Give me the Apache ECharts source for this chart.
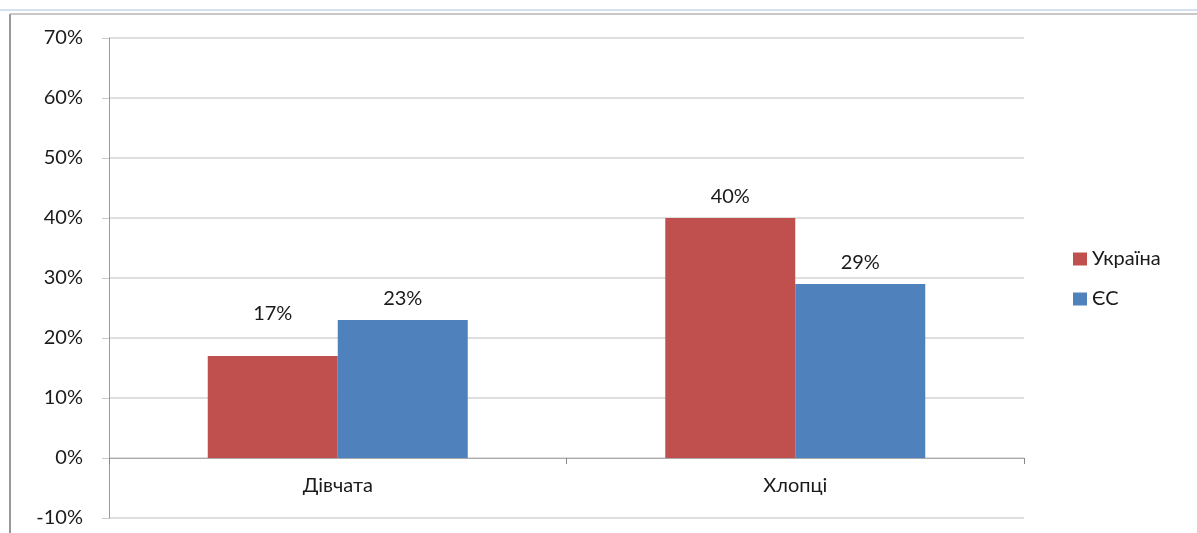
<!DOCTYPE html>
<html>
<head>
<meta charset="utf-8">
<script src="https://cdn.jsdelivr.net/npm/echarts@6/dist/echarts.min.js"></script>
<style>
  html, body { margin: 0; padding: 0; background: #fff; }
  #chart { width: 1197px; height: 533px; }
</style>
</head>
<body>
<div id="chart"></div>
<script>
const categories = ['Дівчата', 'Хлопці'];
const ukraineValues = [17, 40];
const euValues = [23, 29];
const seriesNames = ['Україна', 'ЄС'];

const FONT = 'Lato';
const TEXT = '#1a1a1a';

const chart = echarts.init(document.getElementById('chart'));

const labelStyle = {
    show: true,
    position: 'top',
    distance: 11,
    formatter: '{c}%',
    fontFamily: FONT,
    fontSize: 20,
    color: TEXT
};

// the Дівчата/Україна label sits higher in the original, clear of its neighbour
const ukraineData = ukraineValues.map((v, i) => (
    i === 0 ? { value: v, label: { distance: 32 } } : v
));

const option = {
    backgroundColor: '#fff',
    animation: false,
    grid: {
        left: 109,
        right: 173,
        top: 38,
        bottom: 15,
        outerBoundsMode: 'none'
    },
    legend: {
        orient: 'vertical',
        left: 1068,
        top: 244,
        itemWidth: 14,
        itemHeight: 13,
        itemGap: 20,
        icon: 'rect',
        textStyle: { fontFamily: FONT, fontSize: 20, color: TEXT },
        data: seriesNames
    },
    xAxis: {
        type: 'category',
        data: categories,
        position: 'bottom',
        offset: -60,
        axisLine: { onZero: false, lineStyle: { color: '#aaa', width: 1 } },
        axisTick: { show: true, length: 6, lineStyle: { color: '#888' } },
        axisLabel: { margin: 18, fontFamily: FONT, fontSize: 20, color: TEXT }
    },
    yAxis: {
        type: 'value',
        min: -10,
        max: 70,
        interval: 10,
        axisLine: { show: true, lineStyle: { color: '#999', width: 1 } },
        axisTick: { show: true, length: 7, lineStyle: { color: '#ccc' } },
        axisLabel: { margin: 26, formatter: '{value}%', fontFamily: FONT, fontSize: 20, color: TEXT },
        splitLine: { show: true, lineStyle: { color: '#d4d4d4', width: 1.5 } }
    },
    series: [
        {
            name: seriesNames[0],
            type: 'bar',
            data: ukraineData,
            barWidth: 130,
            barGap: '0%',
            itemStyle: { color: '#C0504D' },
            label: labelStyle
        },
        {
            name: seriesNames[1],
            type: 'bar',
            data: euValues,
            barWidth: 130,
            itemStyle: { color: '#4F81BD' },
            label: labelStyle
        }
    ],
    graphic: [
        // outer frame of the embedded chart
        { type: 'line', shape: { x1: 0, y1: 10, x2: 1197, y2: 10 }, style: { stroke: '#d5e0f0', lineWidth: 2 } },
        { type: 'line', shape: { x1: 10, y1: 14, x2: 1197, y2: 14 }, style: { stroke: '#c8c8c8', lineWidth: 2 } },
        { type: 'line', shape: { x1: 10, y1: 14, x2: 10, y2: 533 }, style: { stroke: '#999', lineWidth: 2 } }
    ]
};

chart.setOption(option);
</script>
</body>
</html>
